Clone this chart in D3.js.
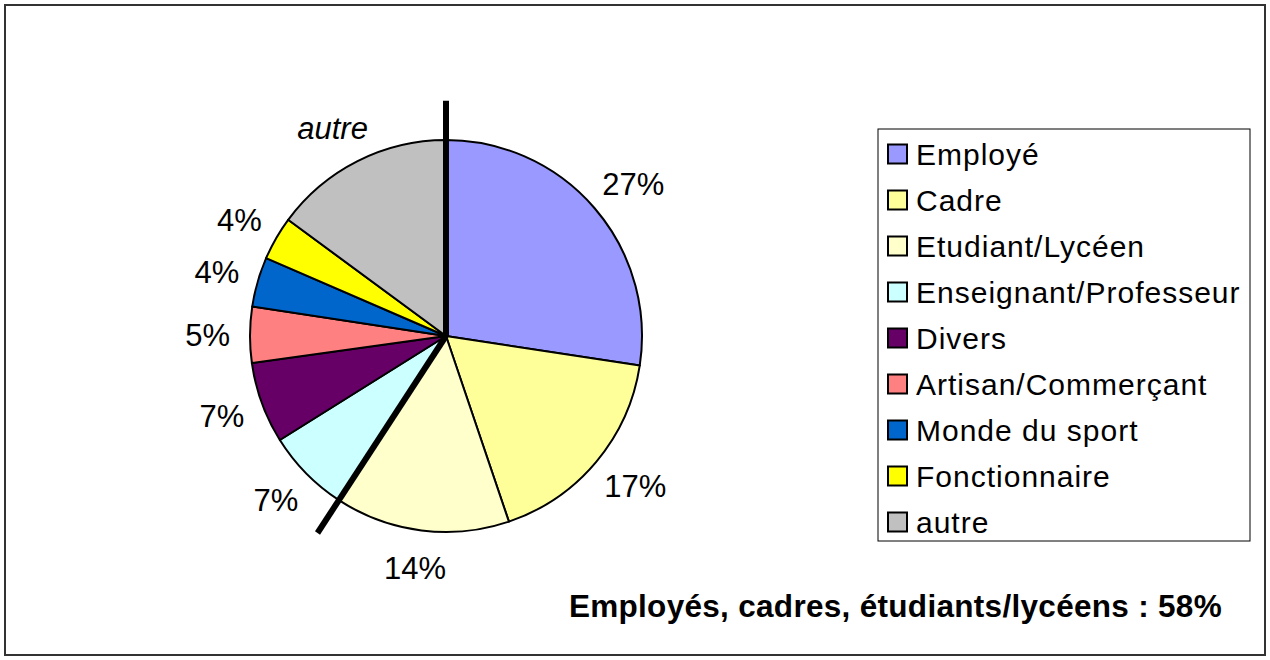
<!DOCTYPE html>
<html>
<head>
<meta charset="utf-8">
<script src="https://cdn.jsdelivr.net/npm/d3@7/dist/d3.min.js"></script>
<style>
  html, body { margin: 0; padding: 0; background: #fff; }
  svg { display: block; font-family: "Liberation Sans", Arial, sans-serif; }
</style>
</head>
<body>
<svg id="chart" width="1270" height="660"></svg>
<script>
// ---- data ----
const categories = ["Employé", "Cadre", "Etudiant/Lycéen", "Enseignant/Professeur", "Divers",
                    "Artisan/Commerçant", "Monde du sport", "Fonctionnaire", "autre"];
const values = [27.4, 17.4, 14.4, 6.9, 6.7, 4.6, 4.1, 3.6, 14.9];
const colors = ["#9999FF", "#FFFF99", "#FFFFCC", "#CCFFFF", "#660066",
                "#FF8080", "#0066CC", "#FFFF00", "#C0C0C0"];
const groupCount = 3; // Employés, cadres, étudiants/lycéens
const noteText = "Employés, cadres, étudiants/lycéens : 58%";

// ---- layout ----
const W = 1270, H = 660;
const cx = 446, cy = 336, r = 196;
const svg = d3.select("#chart");

svg.append("rect").attr("x", 5).attr("y", 5).attr("width", W - 10).attr("height", H - 10)
  .attr("fill", "#fff").attr("stroke", "#333").attr("stroke-width", 2);

const pie = d3.pie().sort(null).value(d => d)(values);
const arc = d3.arc().innerRadius(0).outerRadius(r);

const g = svg.append("g").attr("transform", `translate(${cx},${cy})`);
g.selectAll("path.slice").data(pie).enter().append("path")
  .attr("class", "slice")
  .attr("d", arc)
  .attr("fill", (d, i) => colors[i])
  .attr("stroke", "#000").attr("stroke-width", 2).attr("stroke-linejoin", "round");

// thick separator lines (group boundary)
const total = d3.sum(values);
const groupEnd = d3.sum(values.slice(0, groupCount)) / total * 2 * Math.PI;
const lineLen = r * 1.2;
[0, groupEnd].forEach(a => {
  g.append("line").attr("x1", 0).attr("y1", 0)
    .attr("x2", Math.sin(a) * lineLen).attr("y2", -Math.cos(a) * lineLen)
    .attr("stroke", "#000").attr("stroke-width", 6);
});

// labels
const labelOffset = 20;
pie.forEach((d, i) => {
  const a = (d.startAngle + d.endAngle) / 2;
  const isOther = i === values.length - 1;
  const t = g.append("text")
    .attr("font-size", 31)
    .attr("font-style", isOther ? "italic" : "normal")
    .attr("fill", "#000")
    .attr("text-anchor", "middle")
    .text(isOther ? categories[i] : Math.round(d.value / total * 100) + "%");
  const bb = t.node().getBBox();
  const px = Math.sin(a) * (r + labelOffset), py = -Math.cos(a) * (r + labelOffset);
  const ccx = px + Math.sin(a) * bb.width / 2;
  const ccy = py - Math.cos(a) * bb.height / 2;
  t.attr("x", ccx).attr("y", ccy + 11);
});

// legend
const lx = 878, ly = 129, lw = 372, lh = 412;
svg.append("rect").attr("x", lx).attr("y", ly).attr("width", lw).attr("height", lh)
  .attr("fill", "#fff").attr("stroke", "#000").attr("stroke-width", 1);
const rowY = d3.scalePoint().domain(categories).range([154, 522]);
const leg = svg.append("g");
categories.forEach((c, i) => {
  const y = rowY(c);
  leg.append("rect").attr("x", 888).attr("y", y - 9.5).attr("width", 19).attr("height", 19)
    .attr("fill", colors[i]).attr("stroke", "#000").attr("stroke-width", 2);
  leg.append("text").attr("x", 916).attr("y", y + 11)
    .attr("font-size", 30).attr("letter-spacing", 1).attr("fill", "#000").text(c);
});

// note
svg.append("text").attr("x", 1222).attr("y", 617).attr("text-anchor", "end")
  .attr("font-size", 31.5).attr("font-weight", "bold").attr("letter-spacing", 0.3)
  .attr("fill", "#000").text(noteText);
</script>
</body>
</html>
